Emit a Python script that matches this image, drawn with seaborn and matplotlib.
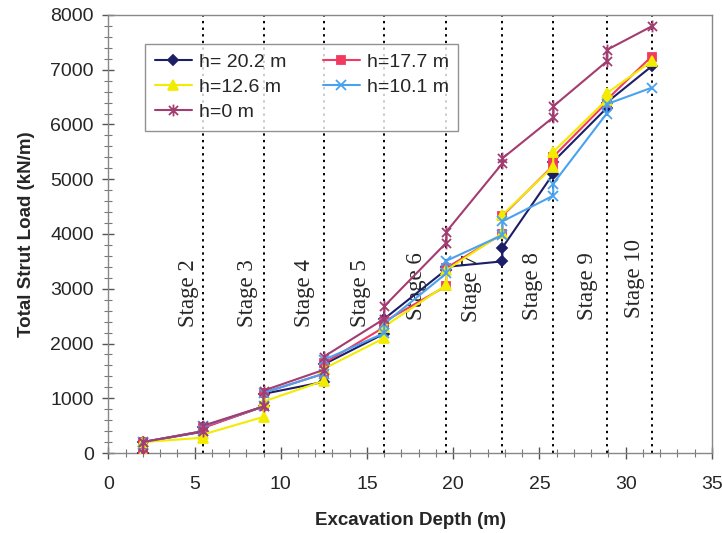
import matplotlib
matplotlib.use("Agg")
import matplotlib.pyplot as plt
from matplotlib.path import Path
from matplotlib.ticker import MultipleLocator
import seaborn as sns

# Excavation depth at each measurement (two readings per stage: before / after strut)
depth = [2.0, 2.0, 5.5, 5.5, 9.0, 9.0, 12.5, 12.5, 16.0, 16.0, 19.6, 19.6,
         22.85, 22.85, 25.8, 25.8, 28.9, 28.9, 31.5]

# Total strut load (kN/m) for each water-level case
load_h20_2 = [0, 200, 390, 470, 850, 1080, 1300, 1620, 2180, 2450, 3350, 3400,
              3500, 3750, 5100, 5320, 6300, 6400, 7060]
load_h17_7 = [0, 200, 400, 460, 850, 1100, 1450, 1640, 2300, 2400, 3050, 3380,
              4000, 4330, 5250, 5410, 6400, 6450, 7240]
load_h12_6 = [0, 200, 280, 340, 660, 940, 1320, 1540, 2100, 2310, 3070, 3340,
              4010, 4350, 5230, 5500, 6450, 6570, 7150]
load_h10_1 = [0, 200, 400, 490, 850, 1100, 1450, 1700, 2190, 2360, 3280, 3510,
              3980, 4230, 4700, 4920, 6200, 6370, 6670]
load_h0 = [0, 200, 400, 500, 850, 1140, 1520, 1760, 2450, 2680, 3840, 4040,
           5290, 5380, 6130, 6330, 7150, 7360, 7790]

series_labels = ["h= 20.2 m", "h=17.7 m", "h=12.6 m", "h=10.1 m", "h=0 m"]

# Construction stages
stage_depths = [5.5, 9.0, 12.5, 16.0, 19.6, 22.85, 25.8, 28.9, 31.5]
stage_names = ["Stage 2", "Stage 3", "Stage 4", "Stage 5", "Stage 6",
               "Stage 7", "Stage 8", "Stage 9", "Stage 10"]
stage_label_x = [4.65, 8.1, 11.4, 14.6, 17.9, 21.05, 24.6, 27.8, 30.5]
stage_label_y = [2300, 2300, 2300, 2300, 2430, 2390, 2430, 2430, 2465]

# Asterisk marker: an "x" with a vertical bar
star_path = Path(
    [(-1, -1), (1, 1), (-1, 1), (1, -1), (0, -1.3), (0, 1.3)],
    [Path.MOVETO, Path.LINETO, Path.MOVETO, Path.LINETO, Path.MOVETO, Path.LINETO],
)

colors = ["#1c1f66", "#f03a60", "#f2ec00", "#4aa2ee", "#a33c70"]
markers = ["D", "s", "^", "x", star_path]
msizes = [5.5, 6, 7, 6.5, 8.5]
all_loads = [load_h20_2, load_h17_7, load_h12_6, load_h10_1, load_h0]

sns.set_theme(style="ticks")
plt.rcParams["font.family"] = ["Liberation Sans", "DejaVu Sans"]

fig = plt.figure(figsize=(7.22, 5.33), dpi=100)
ax = fig.add_axes([0.150, 0.150, 0.836, 0.822])

# Dotted stage boundaries
for d in stage_depths:
    ax.plot([d, d], [0, 8000], color="black", linestyle=(0, (1.2, 2.2)),
            linewidth=1.4, zorder=1)

for loads, lab, c, m, ms in zip(all_loads, series_labels, colors, markers, msizes):
    sns.lineplot(x=depth, y=loads, ax=ax, estimator=None, sort=False,
                 color=c, marker=m, markersize=ms, markeredgecolor=c,
                 markerfacecolor=c, markeredgewidth=1.3, linewidth=1.5,
                 label=lab, zorder=3)

for name, xs, ys in zip(stage_names, stage_label_x, stage_label_y):
    ax.text(xs, ys, name, rotation=90, ha="center", va="bottom",
            fontsize=16.5, family=["Liberation Serif", "DejaVu Serif"], zorder=2)

ax.set_xlim(0, 35)
ax.set_ylim(0, 8000)
ax.xaxis.set_major_locator(MultipleLocator(5))
ax.xaxis.set_minor_locator(MultipleLocator(1))
ax.yaxis.set_major_locator(MultipleLocator(1000))
ax.yaxis.set_minor_locator(MultipleLocator(200))
ax.tick_params(which="major", direction="inout", length=9, width=1,
               color="#555555", labelsize=14, pad=6)
ax.tick_params(which="minor", direction="inout", length=6, width=0.8,
               color="#777777")
ax.tick_params(axis="x", which="major", pad=12)

for s in ax.spines.values():
    s.set_color("#888888")
    s.set_linewidth(1.0)
    s.set_visible(True)

ax.set_xlabel("Excavation Depth (m)", fontsize=13.5, fontweight="bold", labelpad=14)
ax.set_ylabel("Total Strut Load (kN/m)", fontsize=13.5, fontweight="bold", labelpad=11)

h, l = ax.get_legend_handles_labels()
order = [0, 2, 4, 1, 3]
leg = ax.legend([h[i] for i in order], [l[i] for i in order], ncol=2,
                loc="upper left", bbox_to_anchor=(0.061, 0.934),
                fontsize=14, frameon=True, fancybox=False, edgecolor="#777777",
                handlelength=1.9, handletextpad=0.35, columnspacing=1.9,
                labelspacing=0.38, borderpad=0.5, borderaxespad=0)
leg.get_frame().set_linewidth(1.0)

fig.savefig("out.png", dpi=100, facecolor="white")
